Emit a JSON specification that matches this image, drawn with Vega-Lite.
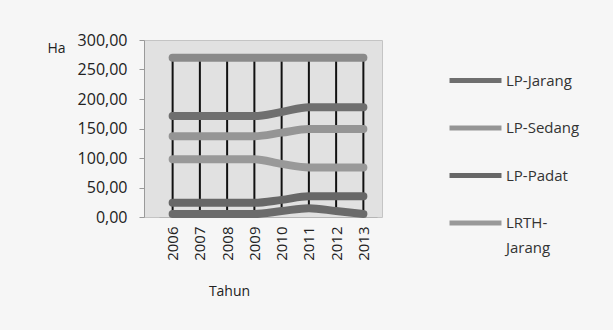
{
  "$schema": "https://vega.github.io/schema/vega-lite/v6.json",
  "autosize": {"type": "none"},
  "width": 238,
  "height": 177,
  "padding": {"left": 144, "top": 40, "right": 231, "bottom": 113},
  "background": "#f6f6f6",
  "config": {
    "font": "Open Sans",
    "view": {"fill": "#e1e1e1", "stroke": "#c4c4c4", "strokeWidth": 1}
  },
  "data": {
    "values": [
      {"Tahun": "2006", "seri": "LRTH-Padat", "nilai": 270},
      {"Tahun": "2007", "seri": "LRTH-Padat", "nilai": 270},
      {"Tahun": "2008", "seri": "LRTH-Padat", "nilai": 270},
      {"Tahun": "2009", "seri": "LRTH-Padat", "nilai": 270},
      {"Tahun": "2010", "seri": "LRTH-Padat", "nilai": 270},
      {"Tahun": "2011", "seri": "LRTH-Padat", "nilai": 270},
      {"Tahun": "2012", "seri": "LRTH-Padat", "nilai": 270},
      {"Tahun": "2013", "seri": "LRTH-Padat", "nilai": 270},
      {"Tahun": "2006", "seri": "LP-Jarang", "nilai": 171},
      {"Tahun": "2007", "seri": "LP-Jarang", "nilai": 171},
      {"Tahun": "2008", "seri": "LP-Jarang", "nilai": 171},
      {"Tahun": "2009", "seri": "LP-Jarang", "nilai": 171},
      {"Tahun": "2010", "seri": "LP-Jarang", "nilai": 178},
      {"Tahun": "2011", "seri": "LP-Jarang", "nilai": 186},
      {"Tahun": "2012", "seri": "LP-Jarang", "nilai": 186},
      {"Tahun": "2013", "seri": "LP-Jarang", "nilai": 186},
      {"Tahun": "2006", "seri": "LP-Sedang", "nilai": 137},
      {"Tahun": "2007", "seri": "LP-Sedang", "nilai": 137},
      {"Tahun": "2008", "seri": "LP-Sedang", "nilai": 137},
      {"Tahun": "2009", "seri": "LP-Sedang", "nilai": 137},
      {"Tahun": "2010", "seri": "LP-Sedang", "nilai": 143},
      {"Tahun": "2011", "seri": "LP-Sedang", "nilai": 149},
      {"Tahun": "2012", "seri": "LP-Sedang", "nilai": 149},
      {"Tahun": "2013", "seri": "LP-Sedang", "nilai": 149},
      {"Tahun": "2006", "seri": "LRTH-Jarang", "nilai": 98},
      {"Tahun": "2007", "seri": "LRTH-Jarang", "nilai": 98},
      {"Tahun": "2008", "seri": "LRTH-Jarang", "nilai": 98},
      {"Tahun": "2009", "seri": "LRTH-Jarang", "nilai": 98},
      {"Tahun": "2010", "seri": "LRTH-Jarang", "nilai": 90},
      {"Tahun": "2011", "seri": "LRTH-Jarang", "nilai": 84},
      {"Tahun": "2012", "seri": "LRTH-Jarang", "nilai": 84},
      {"Tahun": "2013", "seri": "LRTH-Jarang", "nilai": 84},
      {"Tahun": "2006", "seri": "LP-Padat", "nilai": 24},
      {"Tahun": "2007", "seri": "LP-Padat", "nilai": 24},
      {"Tahun": "2008", "seri": "LP-Padat", "nilai": 24},
      {"Tahun": "2009", "seri": "LP-Padat", "nilai": 24},
      {"Tahun": "2010", "seri": "LP-Padat", "nilai": 29},
      {"Tahun": "2011", "seri": "LP-Padat", "nilai": 35},
      {"Tahun": "2012", "seri": "LP-Padat", "nilai": 35},
      {"Tahun": "2013", "seri": "LP-Padat", "nilai": 35},
      {"Tahun": "2006", "seri": "LRTH-Sedang", "nilai": 5},
      {"Tahun": "2007", "seri": "LRTH-Sedang", "nilai": 5},
      {"Tahun": "2008", "seri": "LRTH-Sedang", "nilai": 5},
      {"Tahun": "2009", "seri": "LRTH-Sedang", "nilai": 5},
      {"Tahun": "2010", "seri": "LRTH-Sedang", "nilai": 10},
      {"Tahun": "2011", "seri": "LRTH-Sedang", "nilai": 15},
      {"Tahun": "2012", "seri": "LRTH-Sedang", "nilai": 10},
      {"Tahun": "2013", "seri": "LRTH-Sedang", "nilai": 5}
    ]
  },
  "encoding": {
    "x": {
      "field": "Tahun",
      "type": "ordinal",
      "scale": {"type": "point", "range": [15, 233]},
      "axis": {
        "title": "Tahun",
        "titleFont": "Open Sans",
        "titleFontSize": 14,
        "titleFontWeight": "normal",
        "titleColor": "#222222",
        "titleX": 85,
        "titleY": 74,
        "titleAlign": "center",
        "titleBaseline": "middle",
        "labelAngle": -90,
        "labelAlign": "right",
        "labelBaseline": "middle",
        "labelFontSize": 15,
        "labelColor": "#222222",
        "labelPadding": 9,
        "ticks": false,
        "domainColor": "#b5b5b5",
        "grid": false
      }
    },
    "y": {
      "field": "nilai",
      "type": "quantitative",
      "scale": {"domain": [0, 300]},
      "axis": {
        "title": "Ha",
        "titleAngle": 0,
        "titleFontSize": 14,
        "titleFontWeight": "normal",
        "titleColor": "#222222",
        "titleX": -88,
        "titleY": 8,
        "titleAlign": "center",
        "titleBaseline": "middle",
        "values": [0, 50, 100, 150, 200, 250, 300],
        "labelExpr": "replace(format(datum.value, '.2f'), '.', ',')",
        "labelFontSize": 16,
        "labelColor": "#222222",
        "labelPadding": 12,
        "tickSize": 5,
        "tickColor": "#9a9a9a",
        "domainColor": "#9a9a9a",
        "grid": false
      }
    }
  },
  "layer": [
    {
      "mark": {"type": "rule", "color": "#111111", "strokeWidth": 2},
      "encoding": {
        "y": {"aggregate": "min", "field": "nilai", "type": "quantitative"},
        "y2": {"aggregate": "max", "field": "nilai"}
      }
    },
    {
      "mark": {"type": "line", "strokeWidth": 8, "interpolate": "monotone", "strokeCap": "round"},
      "encoding": {
        "color": {
          "field": "seri",
          "type": "nominal",
          "scale": {
            "domain": ["LP-Jarang", "LP-Sedang", "LP-Padat", "LRTH-Jarang", "LRTH-Sedang", "LRTH-Padat"],
            "range": ["#6f6f6f", "#959595", "#676767", "#999999", "#6b6b6b", "#8a8a8a"]
          },
          "legend": {
            "values": ["LP-Jarang", "LP-Sedang", "LP-Padat", "LRTH-Jarang"],
            "title": null,
            "orient": "none",
            "legendX": 303,
            "legendY": 12,
            "symbolType": "stroke",
            "symbolSize": 2700,
            "symbolStrokeWidth": 5,
            "labelFontSize": 15,
            "labelColor": "#333333",
            "labelOffset": 2,
            "rowPadding": 8.5,
            "labelExpr": "datum.label == 'LRTH-Jarang' ? ['LRTH-', 'Jarang'] : datum.label",
            "encode": {"labels": {"update": {"lineHeight": {"value": 25}}}}
          }
        }
      }
    }
  ]
}
